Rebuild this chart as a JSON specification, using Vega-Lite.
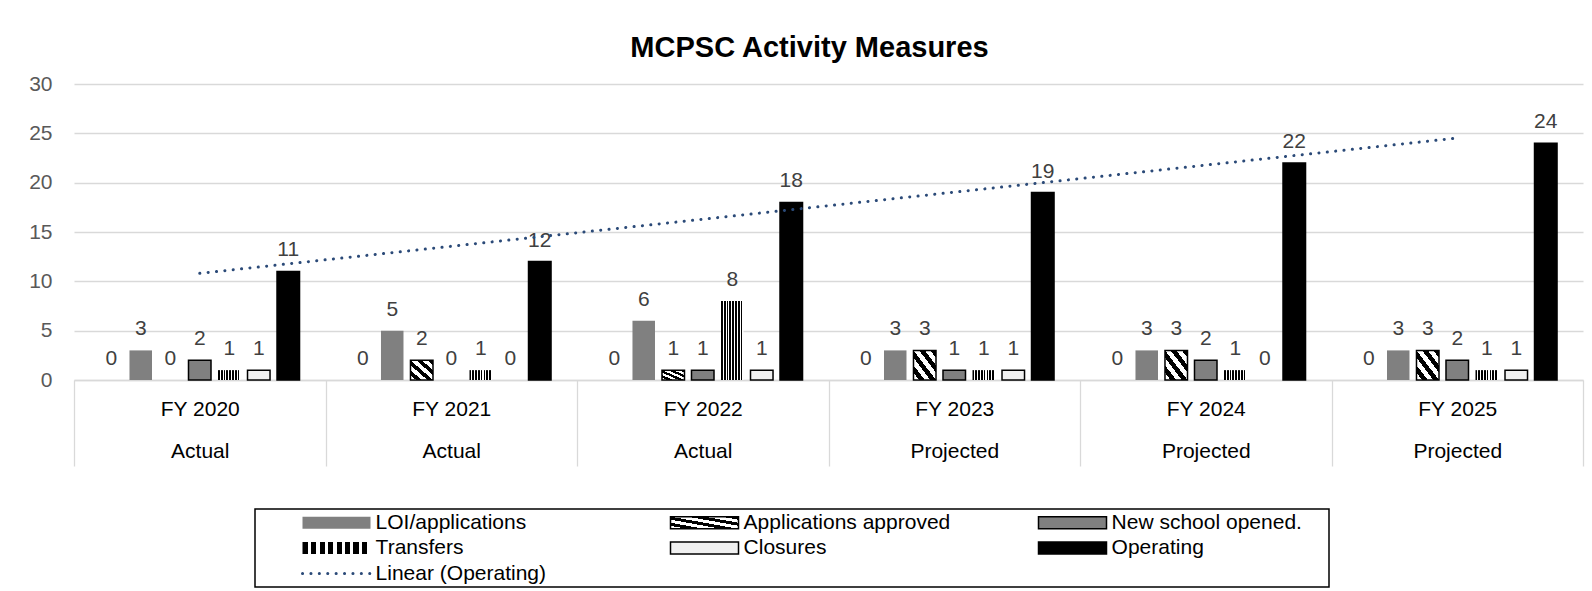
{
  "$schema": "https://vega.github.io/schema/vega-lite/v6.json",
  "width": 1509,
  "height": 296,
  "autosize": {"type": "none"},
  "padding": {"left": 74, "top": 84, "right": 9, "bottom": 211},
  "config": {"font": "Liberation Sans", "view": {"stroke": null}},
  "title": {"text": "MCPSC Activity Measures", "fontSize": 29, "fontWeight": "bold", "color": "#000000", "anchor": "middle", "frame": "group", "dx": -19, "offset": -13, "baseline": "alphabetic"},
  "data": {"values": [
    {"period": "FY 2020|Actual", "year": 2020, "series": "Blank", "value": 0},
    {"period": "FY 2020|Actual", "year": 2020, "series": "LOI/applications", "value": 3},
    {"period": "FY 2020|Actual", "year": 2020, "series": "Applications approved", "value": 0},
    {"period": "FY 2020|Actual", "year": 2020, "series": "New school opened.", "value": 2},
    {"period": "FY 2020|Actual", "year": 2020, "series": "Transfers", "value": 1},
    {"period": "FY 2020|Actual", "year": 2020, "series": "Closures", "value": 1},
    {"period": "FY 2020|Actual", "year": 2020, "series": "Operating", "value": 11},
    {"period": "FY 2021|Actual", "year": 2021, "series": "Blank", "value": 0},
    {"period": "FY 2021|Actual", "year": 2021, "series": "LOI/applications", "value": 5},
    {"period": "FY 2021|Actual", "year": 2021, "series": "Applications approved", "value": 2},
    {"period": "FY 2021|Actual", "year": 2021, "series": "New school opened.", "value": 0},
    {"period": "FY 2021|Actual", "year": 2021, "series": "Transfers", "value": 1},
    {"period": "FY 2021|Actual", "year": 2021, "series": "Closures", "value": 0},
    {"period": "FY 2021|Actual", "year": 2021, "series": "Operating", "value": 12},
    {"period": "FY 2022|Actual", "year": 2022, "series": "Blank", "value": 0},
    {"period": "FY 2022|Actual", "year": 2022, "series": "LOI/applications", "value": 6},
    {"period": "FY 2022|Actual", "year": 2022, "series": "Applications approved", "value": 1},
    {"period": "FY 2022|Actual", "year": 2022, "series": "New school opened.", "value": 1},
    {"period": "FY 2022|Actual", "year": 2022, "series": "Transfers", "value": 8},
    {"period": "FY 2022|Actual", "year": 2022, "series": "Closures", "value": 1},
    {"period": "FY 2022|Actual", "year": 2022, "series": "Operating", "value": 18},
    {"period": "FY 2023|Projected", "year": 2023, "series": "Blank", "value": 0},
    {"period": "FY 2023|Projected", "year": 2023, "series": "LOI/applications", "value": 3},
    {"period": "FY 2023|Projected", "year": 2023, "series": "Applications approved", "value": 3},
    {"period": "FY 2023|Projected", "year": 2023, "series": "New school opened.", "value": 1},
    {"period": "FY 2023|Projected", "year": 2023, "series": "Transfers", "value": 1},
    {"period": "FY 2023|Projected", "year": 2023, "series": "Closures", "value": 1},
    {"period": "FY 2023|Projected", "year": 2023, "series": "Operating", "value": 19},
    {"period": "FY 2024|Projected", "year": 2024, "series": "Blank", "value": 0},
    {"period": "FY 2024|Projected", "year": 2024, "series": "LOI/applications", "value": 3},
    {"period": "FY 2024|Projected", "year": 2024, "series": "Applications approved", "value": 3},
    {"period": "FY 2024|Projected", "year": 2024, "series": "New school opened.", "value": 2},
    {"period": "FY 2024|Projected", "year": 2024, "series": "Transfers", "value": 1},
    {"period": "FY 2024|Projected", "year": 2024, "series": "Closures", "value": 0},
    {"period": "FY 2024|Projected", "year": 2024, "series": "Operating", "value": 22},
    {"period": "FY 2025|Projected", "year": 2025, "series": "Blank", "value": 0},
    {"period": "FY 2025|Projected", "year": 2025, "series": "LOI/applications", "value": 3},
    {"period": "FY 2025|Projected", "year": 2025, "series": "Applications approved", "value": 3},
    {"period": "FY 2025|Projected", "year": 2025, "series": "New school opened.", "value": 2},
    {"period": "FY 2025|Projected", "year": 2025, "series": "Transfers", "value": 1},
    {"period": "FY 2025|Projected", "year": 2025, "series": "Closures", "value": 1},
    {"period": "FY 2025|Projected", "year": 2025, "series": "Operating", "value": 24}
  ]},
  "layer": [
    {
      "layer": [
        {
          "transform": [{"filter": "datum.series !== 'Blank' && datum.value > 0"}],
          "mark": {"type": "bar", "strokeWidth": 1.5},
          "encoding": {
            "x": {"field": "period", "type": "nominal", "sort": null, "title": null,
              "scale": {"type": "band", "paddingInner": 0, "paddingOuter": 0},
              "axis": {"title": null, "domainColor": "#d9d9d9", "domainWidth": 1.3, "tickColor": "#d9d9d9", "tickWidth": 1.3, "tickSize": 86, "tickBand": "extent", "labelFontSize": 21, "labelColor": "#000000", "labelPadding": -67.5, "labelLineHeight": 42, "labelExpr": "split(datum.label, '|')", "labelAngle": 0, "labelOverlap": false, "labelBaseline": "top", "grid": false}},
            "xOffset": {"field": "series", "type": "nominal",
              "scale": {"domain": ["Blank", "LOI/applications", "Applications approved", "New school opened.", "Transfers", "Closures", "Operating"], "paddingInner": 0.237, "paddingOuter": 0.88}},
            "y": {"field": "value", "type": "quantitative", "title": null,
              "scale": {"domain": [0, 30], "nice": false},
              "axis": {"values": [0, 5, 10, 15, 20, 25, 30], "domain": false, "ticks": false, "labelFontSize": 21, "labelColor": "#595959", "labelPadding": 22, "gridColor": "#d9d9d9", "gridWidth": 1.3, "title": null}},
            "color": {"field": "series", "type": "nominal",
              "scale": {
                "domain": ["LOI/applications", "Transfers", "Operating", "Applications approved", "Closures", "Linear (Operating)", "New school opened."],
                "range": [
                  "#808080",
                  {"expr": "{gradient:'linear',x1:0,y1:0,x2:1,y2:0,stops:[{offset:0,color:'#000000'},{offset:0.075,color:'#000000'},{offset:0.075,color:'#ffffff'},{offset:0.125,color:'#ffffff'},{offset:0.125,color:'#000000'},{offset:0.2,color:'#000000'},{offset:0.2,color:'#ffffff'},{offset:0.25,color:'#ffffff'},{offset:0.25,color:'#000000'},{offset:0.325,color:'#000000'},{offset:0.325,color:'#ffffff'},{offset:0.375,color:'#ffffff'},{offset:0.375,color:'#000000'},{offset:0.45,color:'#000000'},{offset:0.45,color:'#ffffff'},{offset:0.5,color:'#ffffff'},{offset:0.5,color:'#000000'},{offset:0.575,color:'#000000'},{offset:0.575,color:'#ffffff'},{offset:0.625,color:'#ffffff'},{offset:0.625,color:'#000000'},{offset:0.7,color:'#000000'},{offset:0.7,color:'#ffffff'},{offset:0.75,color:'#ffffff'},{offset:0.75,color:'#000000'},{offset:0.825,color:'#000000'},{offset:0.825,color:'#ffffff'},{offset:0.875,color:'#ffffff'},{offset:0.875,color:'#000000'},{offset:0.95,color:'#000000'},{offset:0.95,color:'#ffffff'},{offset:1,color:'#ffffff'}]}"},
                  "#000000",
                  {"expr": "{gradient:'linear',x1:0,y1:1,x2:1,y2:0,stops:[{offset:0,color:'#ffffff'},{offset:0.125,color:'#ffffff'},{offset:0.125,color:'#000000'},{offset:0.25,color:'#000000'},{offset:0.25,color:'#ffffff'},{offset:0.375,color:'#ffffff'},{offset:0.375,color:'#000000'},{offset:0.5,color:'#000000'},{offset:0.5,color:'#ffffff'},{offset:0.625,color:'#ffffff'},{offset:0.625,color:'#000000'},{offset:0.75,color:'#000000'},{offset:0.75,color:'#ffffff'},{offset:0.875,color:'#ffffff'},{offset:0.875,color:'#000000'},{offset:1,color:'#000000'}]}"},
                  "#f0f0f0",
                  "#2B4A78",
                  "#808080"
                ]},
              "legend": {
                "title": " ", "titleOrient": "right", "titlePadding": 23.5, "titleFontSize": 21,
                "orient": "none", "legendX": 181, "legendY": 425,
                "columns": 3, "gridAlign": "all", "columnPadding": 43, "rowPadding": 3.5, "padding": 3,
                "strokeColor": "#000000",
                "symbolType": "M-1,-0.18H1V0.18H-1Z", "symbolSize": 4624, "symbolOffset": 68, "symbolStrokeWidth": 1.5,
                "labelOffset": 28.6, "labelFontSize": 21, "labelColor": "#000000", "labelLimit": 400, "labelFont": "Liberation Sans",
                "encode": {
                  "symbols": {"update": {
                    "shape": {"signal": "datum.value === 'Linear (Operating)' ? 'M-1,0H1' : 'M-1,-0.18H1V0.18H-1Z'"},
                    "strokeDash": {"signal": "datum.value === 'Linear (Operating)' ? [0.1, 8.3] : []"},
                    "strokeWidth": {"signal": "datum.value === 'Linear (Operating)' ? 3 : 1.5"},
                    "strokeCap": {"value": "round"}
                  }},
                  "legend": {"update": {"strokeWidth": {"value": 1.5}}}
                }
              }},
            "stroke": {"field": "series", "type": "nominal",
              "scale": {
                "domain": ["LOI/applications", "Transfers", "Operating", "Applications approved", "Closures", "Linear (Operating)", "New school opened."],
                "range": ["transparent", "transparent", "#000000", "#000000", "#000000", "#2B4A78", "#000000"]},
              "legend": {
                "title": " ", "titleOrient": "right", "titlePadding": 23.5, "titleFontSize": 21,
                "orient": "none", "legendX": 181, "legendY": 425,
                "columns": 3, "gridAlign": "all", "columnPadding": 43, "rowPadding": 3.5, "padding": 3,
                "strokeColor": "#000000",
                "symbolType": "M-1,-0.18H1V0.18H-1Z", "symbolSize": 4624, "symbolOffset": 68, "symbolStrokeWidth": 1.5,
                "labelOffset": 28.6, "labelFontSize": 21, "labelColor": "#000000", "labelLimit": 400, "labelFont": "Liberation Sans"
              }}
          }
        },
        {
          "mark": {"type": "text", "baseline": "alphabetic", "dy": -15, "fontSize": 21, "color": "#404040"},
          "encoding": {
            "x": {"field": "period", "type": "nominal", "sort": null, "title": null},
            "xOffset": {"field": "series", "type": "nominal"},
            "y": {"field": "value", "type": "quantitative", "title": null, "scale": {"domain": [0, 30], "nice": false}},
            "text": {"field": "value", "type": "quantitative"}
          }
        }
      ]
    },
    {
      "transform": [{"filter": "datum.series === 'Operating'"}, {"regression": "value", "on": "year"}],
      "mark": {"type": "line", "strokeDash": [0.1, 8.3], "strokeCap": "round", "strokeWidth": 3, "color": "#2B4A78"},
      "encoding": {
        "x": {"field": "year", "type": "quantitative", "scale": {"domain": [2019.5, 2025.5], "nice": false, "zero": false}, "axis": null},
        "y": {"field": "value", "type": "quantitative", "title": null, "scale": {"domain": [0, 30], "nice": false}}
      }
    }
  ],
  "resolve": {"scale": {"x": "independent", "xOffset": "independent"}}
}
